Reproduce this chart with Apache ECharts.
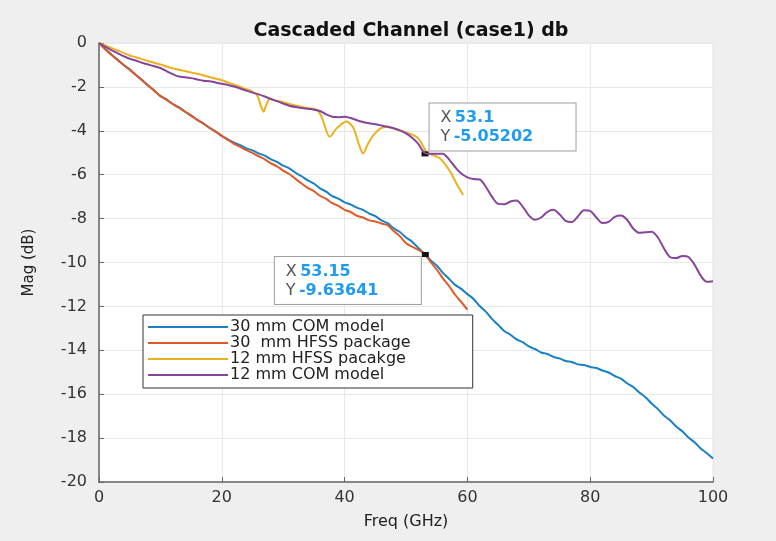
<!DOCTYPE html>
<html>
<head>
    <meta charset="utf-8" />
    <style>
        html, body {
        margin: 0;
        padding: 0;
        background-color: #efefef;
        }
    </style>
    <script src="https://cdn.jsdelivr.net/npm/echarts@6/dist/echarts.min.js"></script>
</head>
<body>
    <div id="chart" style="width: 776px; height: 541px;"></div>

    <script type="text/javascript">
        // 横轴频率 (GHz), 1 GHz 步长
        var freq = [];
        for (var i = 0; i <= 100; i++) freq.push(i);
        var freq60 = freq.slice(0, 61);

        // 30 mm COM model
        var com30 = [0, -0.27, -0.53, -0.75, -1.0, -1.2, -1.46, -1.68, -1.95, -2.16,
            -2.42, -2.57, -2.78, -2.92, -3.13, -3.3, -3.5, -3.66, -3.87, -4.02,
            -4.23, -4.39, -4.54, -4.65, -4.8, -4.89, -5.03, -5.13, -5.3, -5.42,
            -5.59, -5.71, -5.91, -6.07, -6.26, -6.4, -6.62, -6.77, -6.98, -7.09,
            -7.26, -7.36, -7.5, -7.6, -7.77, -7.89, -8.08, -8.21, -8.44, -8.61,
            -8.86, -9.05, -9.34, -9.6, -9.9, -10.14, -10.47, -10.74, -11.02, -11.2,
            -11.44, -11.66, -11.98, -12.24, -12.57, -12.84, -13.12, -13.29, -13.5, -13.63,
            -13.82, -13.94, -14.1, -14.17, -14.3, -14.37, -14.49, -14.53, -14.64, -14.67,
            -14.76, -14.81, -14.92, -15.01, -15.17, -15.29, -15.5, -15.67, -15.92, -16.14,
            -16.42, -16.67, -16.97, -17.19, -17.47, -17.69, -17.97, -18.19, -18.47, -18.69,
            -18.93];

        // 30 mm HFSS package (0 - 60 GHz)
        var hfss30 = [0, -0.28, -0.52, -0.77, -0.99, -1.22, -1.45, -1.7, -1.93, -2.18,
            -2.41, -2.59, -2.77, -2.95, -3.12, -3.32, -3.49, -3.68, -3.86, -4.05,
            -4.23, -4.42, -4.59, -4.73, -4.88, -5.01, -5.16, -5.3, -5.48, -5.62,
            -5.81, -5.97, -6.19, -6.4, -6.6, -6.75, -6.96, -7.1, -7.3, -7.42,
            -7.6, -7.7, -7.87, -7.95, -8.08, -8.13, -8.22, -8.3, -8.57, -8.8,
            -9.12, -9.28, -9.42, -9.6, -9.97, -10.32, -10.72, -11.07, -11.47, -11.8,
            -12.15];

        // 12 mm HFSS pacakge, 谐振处取点更密
        var hfss12Freq = [0, 2, 4, 5, 6, 8, 10, 12, 14, 16, 18, 20, 21, 22, 23, 24, 25,
            25.8, 26.4, 26.8, 27.2, 27.8, 29, 30, 32, 34, 35.5, 36.3, 37.6, 38.7, 40.3,
            41.4, 42.2, 43.0, 43.8, 44.7, 45.8, 46.9, 48, 49.6, 51.7, 52.6, 53.4, 55.5,
            57.2, 58.3, 59.3];
        var hfss12 = [0, -0.22, -0.45, -0.57, -0.65, -0.82, -0.98, -1.15, -1.28, -1.4, -1.55, -1.7, -1.8, -1.9, -2.0, -2.1, -2.22,
            -2.4, -2.9, -3.13, -2.85, -2.55, -2.63, -2.7, -2.85, -2.97, -3.05, -3.4, -4.27, -3.89, -3.58,
            -3.85, -4.5, -5.03, -4.6, -4.2, -3.9, -3.81, -3.9, -4.04, -4.27, -4.6, -4.98, -5.25,
            -5.86, -6.45, -6.92];

        // 12 mm COM model
        var com12 = [0, -0.17, -0.32, -0.46, -0.6, -0.72, -0.8, -0.9, -0.98, -1.06,
            -1.14, -1.28, -1.42, -1.53, -1.56, -1.6, -1.66, -1.72, -1.74, -1.8,
            -1.86, -1.91, -1.98, -2.07, -2.17, -2.26, -2.34, -2.44, -2.55, -2.65,
            -2.76, -2.86, -2.92, -2.96, -3.0, -3.04, -3.1, -3.25, -3.36, -3.38,
            -3.36, -3.42, -3.52, -3.6, -3.66, -3.7, -3.76, -3.82, -3.88, -3.98,
            -4.12, -4.32, -4.6, -5.0, -5.05, -5.04, -5.05, -5.3, -5.65, -5.95,
            -6.12, -6.2, -6.22, -6.55, -7.0, -7.33, -7.35, -7.22, -7.18, -7.45,
            -7.85, -8.05, -7.95, -7.7, -7.6, -7.8, -8.1, -8.15, -7.9, -7.62,
            -7.65, -7.95, -8.2, -8.15, -7.92, -7.86, -8.05, -8.45, -8.65, -8.62,
            -8.6, -8.85, -9.35, -9.75, -9.8, -9.7, -9.75, -10.1, -10.6, -10.88,
            -10.85];

        var names = ['30 mm COM model', '30  mm HFSS package', '12 mm HFSS pacakge', '12 mm COM model'];
        var colors = ['#1a80c4', '#de5a26', '#edb120', '#86449a'];

        // 数据提示点
        var tipX = [53.1, 53.15];
        var tipY = [-5.05202, -9.63641];

        function pairs(xs, ys) {
            var out = [];
            for (var i = 0; i < ys.length; i++) out.push([xs[i], ys[i]]);
            return out;
        }

        var font = 'DejaVu Sans';

        function tipLabel(k, pos) {
            return {
                show: true,
                position: pos,
                align: 'left',
                verticalAlign: 'top',
                width: 127,
                lineHeight: 19,
                padding: [5, 8, 4, 11],
                backgroundColor: 'rgba(255,255,255,0.95)',
                borderColor: '#a0a0a0',
                borderWidth: 1,
                formatter: '{k|X} {v|' + tipX[k] + '}\n{k|Y} {v|' + tipY[k] + '}',
                rich: {
                    k: { color: '#555', fontSize: 16, fontFamily: font, lineHeight: 19 },
                    v: { color: '#1f9cf0', fontSize: 16, fontWeight: 'bold', fontFamily: font, lineHeight: 19 }
                }
            };
        }

        function tipPoint(k, pos) {
            return {
                symbol: 'rect',
                symbolSize: [7, 5],
                itemStyle: { color: '#111' },
                animation: false,
                data: [{ coord: [tipX[k], tipY[k]], label: tipLabel(k, pos) }]
            };
        }

        var myChart = echarts.init(document.getElementById('chart'));
        var option = {
            backgroundColor: '#efefef',
            animation: false,
            title: {
                text: 'Cascaded Channel (case1) db',
                left: 406,
                textAlign: 'center',
                top: 17,
                textStyle: { fontSize: 19, fontWeight: 'bold', fontFamily: font, color: '#111' }
            },
            grid: {
                left: 99, top: 43, width: 614, height: 439,
                show: true,
                backgroundColor: '#ffffff',
                borderColor: '#e4e4e4'
            },
            legend: {
                orient: 'vertical',
                left: 143,
                top: 315,
                itemWidth: 80,
                itemHeight: 14,
                itemGap: 0,
                padding: [4, 62, 5, 4],
                borderColor: '#333',
                borderWidth: 1,
                backgroundColor: '#fff',
                itemStyle: { opacity: 0 },
                textStyle: { fontSize: 16, fontFamily: font, color: '#222', padding: [0, 0, 0, -3] },
                data: names
            },
            xAxis: {
                type: 'value',
                min: 0, max: 100, interval: 20,
                name: 'Freq (GHz)',
                nameLocation: 'middle',
                nameGap: 32,
                nameTextStyle: { fontSize: 16, fontFamily: font, color: '#222' },
                axisLine: { onZero: false, lineStyle: { color: '#666', width: 1.5 } },
                axisTick: { inside: true, length: 5, lineStyle: { color: '#666' } },
                axisLabel: { margin: 8, fontSize: 16, fontFamily: font, color: '#333' },
                splitLine: { show: true, lineStyle: { color: '#e8e8e8' } }
            },
            yAxis: {
                type: 'value',
                min: -20, max: 0, interval: 2,
                name: 'Mag (dB)',
                nameLocation: 'middle',
                nameRotate: 90,
                nameGap: 62,
                nameTextStyle: { fontSize: 15, fontFamily: font, color: '#222' },
                axisLine: { show: true, onZero: false, lineStyle: { color: '#666', width: 1.5 } },
                axisTick: { show: true, inside: true, length: 5, lineStyle: { color: '#666' } },
                axisLabel: { margin: 12, fontSize: 16, fontFamily: font, color: '#333' },
                splitLine: { show: true, lineStyle: { color: '#e8e8e8' } }
            },
            series: [
                {
                    name: names[0], type: 'line', symbol: 'none', smooth: 0.3,
                    lineStyle: { width: 2, color: colors[0] }, itemStyle: { color: colors[0] },
                    data: pairs(freq, com30),
                    markPoint: tipPoint(1, [-147, 5]),
                    z: 2
                },
                {
                    name: names[1], type: 'line', symbol: 'none', smooth: 0.3,
                    lineStyle: { width: 2, color: colors[1] }, itemStyle: { color: colors[1] },
                    data: pairs(freq60, hfss30),
                    z: 3
                },
                {
                    name: names[2], type: 'line', symbol: 'none', smooth: 0.3,
                    lineStyle: { width: 2, color: colors[2] }, itemStyle: { color: colors[2] },
                    data: pairs(hfss12Freq, hfss12),
                    z: 4
                },
                {
                    name: names[3], type: 'line', symbol: 'none', smooth: 0.3,
                    lineStyle: { width: 2, color: colors[3] }, itemStyle: { color: colors[3] },
                    data: pairs(freq, com12),
                    markPoint: tipPoint(0, [8, -48]),
                    z: 5
                }
            ]
        };
        myChart.setOption(option);
    </script>
</body>
</html>
